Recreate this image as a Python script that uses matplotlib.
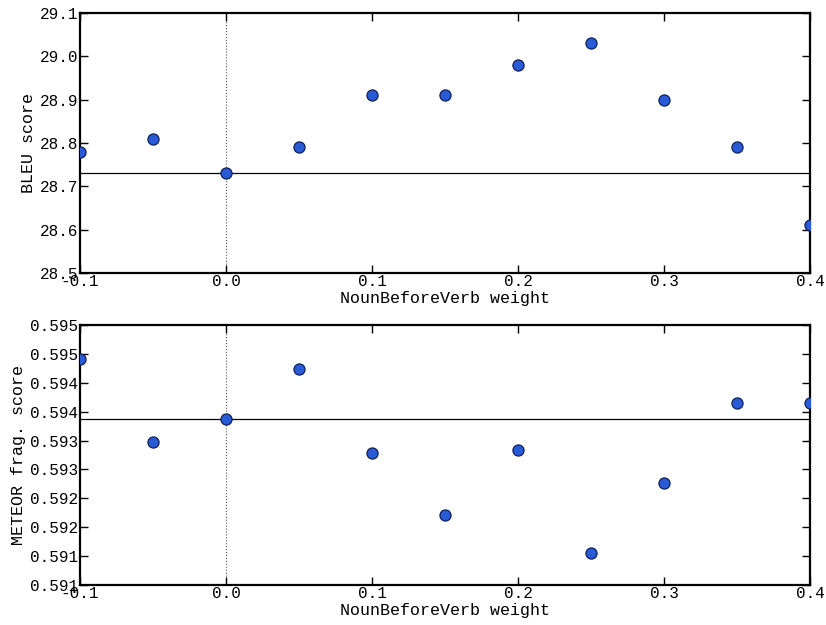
import matplotlib
matplotlib.use("Agg")
import matplotlib.pyplot as plt

# Data
weights = [-0.1, -0.05, 0.0, 0.05, 0.1, 0.15, 0.2, 0.25, 0.3, 0.35, 0.4]
bleu = [28.78, 28.81, 28.73, 28.79, 28.91, 28.91, 28.98, 29.03, 28.90, 28.79, 28.61]
meteor = [0.59441, 0.59297, 0.59337, 0.59424, 0.59278, 0.59171,
          0.59284, 0.59105, 0.59227, 0.59365, 0.59365]

bleu_baseline = 28.73
meteor_baseline = 0.59337

x_ticks = [-0.1, 0.0, 0.1, 0.2, 0.3, 0.4]
x_ticklabels = ['-0.1', '0.0', '0.1', '0.2', '0.3', '0.4']
bleu_ticks = [28.5, 28.6, 28.7, 28.8, 28.9, 29.0, 29.1]
bleu_ticklabels = ['28.5', '28.6', '28.7', '28.8', '28.9', '29.0', '29.1']
meteor_ticks = [0.5905, 0.5910, 0.5915, 0.5920, 0.5925, 0.5930,
                0.5935, 0.5940, 0.5945, 0.5950]
meteor_ticklabels = ['0.591', '0.591', '0.592', '0.592', '0.593',
                     '0.593', '0.594', '0.594', '0.595', '0.595']

plt.rcParams['font.family'] = ['Liberation Mono', 'DejaVu Sans Mono']
plt.rcParams['font.size'] = 11.5

fig = plt.figure(figsize=(8.26, 6.25), dpi=100)
ax1 = fig.add_axes([80 / 826, 1 - 273 / 625, 730 / 826, 260 / 625])
ax2 = fig.add_axes([80 / 826, 1 - 585 / 625, 730 / 826, 260 / 625])


def style_panel(ax, y, baseline, yticks, yticklabels, ylabel):
    ax.axhline(baseline, color='black', linewidth=0.9, zorder=1)
    ax.axvline(0.0, color='#555555', linewidth=0.8, linestyle=':', zorder=1)
    ax.plot(weights, y, 'o', markersize=8, markerfacecolor='#2a5bd7',
            markeredgecolor='#10205a', markeredgewidth=0.9, zorder=3)
    ax.set_xlim(-0.1, 0.4)
    ax.set_ylim(yticks[0], yticks[-1])
    ax.set_xticks(x_ticks)
    ax.set_xticklabels(x_ticklabels)
    ax.set_yticks(yticks)
    ax.set_yticklabels(yticklabels)
    ax.tick_params(direction='in', length=6, width=1.0, top=True, right=True, pad=1)
    for s in ax.spines.values():
        s.set_linewidth(1.6)
    ax.set_xlabel('NounBeforeVerb weight', fontsize=12, labelpad=1)
    ax.set_ylabel(ylabel, fontsize=12, labelpad=3)


style_panel(ax1, bleu, bleu_baseline, bleu_ticks, bleu_ticklabels, 'BLEU score')
style_panel(ax2, meteor, meteor_baseline, meteor_ticks, meteor_ticklabels,
            'METEOR frag. score')

fig.savefig('out.png', dpi=100)
